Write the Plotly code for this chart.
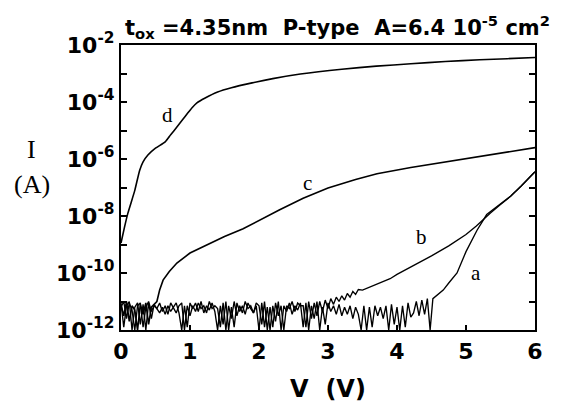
import plotly.graph_objects as go

# ---------------- data (log10 of current in A) ----------------
noise_step = 0.04
a_noise_log = [
    -11.05, -11.9, -11.15, -11.0, -12.0, -11.2, -11.05, -11.8, -11.1, -12.0, -11.05, -11.6,
    -11.1, -11.25, -11.4, -11.2, -11.45, -11.15, -11.35, -11.2, -11.05, -11.4,
    -12.0, -11.15, -11.9, -11.05,
    -11.25, -11.05, -11.35, -11.0, -11.4, -11.15, -11.3, -11.05, -11.35,
    -12.0, -11.15, -11.8, -11.0, -12.0, -11.2, -11.9, -11.05,
    -11.35, -11.15, -11.45, -11.05, -11.25, -11.4, -11.15,
    -12.0, -11.05, -11.9, -11.2, -12.0, -11.15, -11.7, -11.0, -12.0, -11.15,
    -11.35, -11.05, -11.45, -11.15, -11.3, -11.05,
    -11.9, -11.05, -12.0, -11.15, -11.6, -11.0, -12.0, -11.2, -11.8, -11.05,
    -11.35, -11.15, -11.45, -11.1, -11.5, -11.2, -11.45, -11.15, -11.6, -11.2, -11.45,
    -12.0, -11.15, -12.0, -11.2, -11.9, -11.15,
    -11.5, -11.2, -11.6, -11.15,
    -12.0, -11.1, -11.8, -11.2, -12.0, -11.15, -11.9, -11.05, -11.55,
    -11.4, -11.0, -11.5, -10.95, -11.45, -10.9, -12.0,
]
a_rise_v = [4.52, 4.60, 4.67, 4.75, 4.87, 5.00, 5.08, 5.16, 5.30, 5.45, 5.55, 5.65, 5.80, 6.00]
a_rise_log = [-10.9, -10.75, -10.6, -10.35, -10.0, -9.25, -8.85, -8.5, -7.95, -7.68, -7.5, -7.3, -6.95, -6.45]

b_noise_log = [
    -11.2, -11.0, -11.6, -11.05, -11.3, -12.0, -11.15, -11.05, -11.9, -11.2, -11.0, -11.35,
    -11.15, -11.25, -11.05, -11.35, -11.15, -11.45, -11.05, -11.25, -11.4, -11.15,
    -11.05, -12.0, -11.15, -11.5,
    -11.15, -11.35, -11.05, -11.25, -11.15, -11.4, -11.0, -11.25, -11.15,
    -11.25, -11.9, -11.05, -12.0, -11.15, -11.6, -11.0, -11.5,
    -11.15, -11.4, -11.0, -11.25, -11.15, -11.4, -11.05,
    -11.15, -11.8, -11.0, -12.0, -11.2, -11.9, -11.05, -11.5, -11.15, -12.0,
    -11.15, -11.25, -11.0, -11.35, -11.05, -11.15,
    -11.15, -11.9, -11.0, -11.6, -11.05, -11.5, -11.0, -11.35, -10.95, -11.25,
]
b_rise_v = [3.04, 3.08, 3.12, 3.16, 3.20, 3.24, 3.28, 3.32, 3.36, 3.40, 3.44, 3.50, 3.60,
            3.70, 3.80, 3.90, 4.00, 4.20, 4.50, 4.75, 5.00, 5.15, 5.35, 5.50, 5.65, 5.80, 6.00]
b_rise_log = [-10.9, -11.1, -10.85, -11.0, -10.8, -10.95, -10.72, -10.85, -10.65, -10.75, -10.58,
              -10.6, -10.5, -10.42, -10.3, -10.2, -10.05, -9.8, -9.4, -9.05, -8.65, -8.35,
              -7.9, -7.6, -7.3, -6.95, -6.45]

c_noise_log = [-11.1, -11.5, -11.0, -11.7, -11.15, -11.3, -12.0, -11.1, -11.45, -11.05, -11.8, -11.2, -11.1]
c_rise_v = [0.52, 0.56, 0.61, 0.70, 0.81, 1.00, 1.29, 1.50, 1.77, 2.00, 2.30, 2.64, 3.00,
            3.40, 3.71, 4.20, 4.67, 5.20, 5.60, 6.00]
c_rise_log = [-11.0, -10.6, -10.25, -9.95, -9.65, -9.3, -8.95, -8.72, -8.45, -8.15, -7.78,
              -7.38, -7.02, -6.72, -6.52, -6.3, -6.12, -5.92, -5.76, -5.6]

d_v = [0.00, 0.05, 0.10, 0.20, 0.27, 0.32, 0.39, 0.50, 0.64, 0.72, 0.81, 0.90, 0.97, 1.03,
       1.10, 1.22, 1.40, 1.60, 1.90, 2.20, 2.60, 3.20, 3.70, 4.20, 4.70, 5.20, 5.60, 6.00]
d_log = [-8.95, -8.4, -7.9, -7.1, -6.4, -6.1, -5.86, -5.62, -5.4, -5.15, -4.88, -4.6, -4.38,
         -4.2, -4.03, -3.86, -3.65, -3.5, -3.33, -3.18, -3.02, -2.85, -2.74, -2.66, -2.58,
         -2.52, -2.48, -2.44]

curve_labels = ["a", "b", "c", "d"]
label_v = [5.15, 4.36, 2.7, 0.67]
label_log = [-10.0, -8.75, -6.85, -4.45]

x_ticks = [0, 1, 2, 3, 4, 5, 6]
y_exponents = [-12, -11, -10, -9, -8, -7, -6, -5, -4, -3, -2]

# ---------------- build ----------------
def to_amp(logs):
    return [10 ** v for v in logs]

def noise_v(n):
    return [round(i * noise_step, 3) for i in range(n)]

a_v = noise_v(len(a_noise_log)) + a_rise_v
a_log = a_noise_log + a_rise_log
b_v = noise_v(len(b_noise_log)) + b_rise_v
b_log = b_noise_log + b_rise_log
c_v = noise_v(len(c_noise_log)) + c_rise_v
c_log = c_noise_log + c_rise_log

fig = go.Figure()
for xs, ls, w, sh in [(a_v, a_log, 1.35, "linear"), (b_v, b_log, 1.35, "linear"),
                      (c_v, c_log, 1.6, "linear"), (d_v, d_log, 1.6, "spline")]:
    line = dict(color="black", width=w, shape=sh)
    if sh == "spline":
        line["smoothing"] = 0.5
    fig.add_trace(go.Scatter(x=xs, y=to_amp(ls), mode="lines", line=line,
                             showlegend=False, hoverinfo="skip"))

for t, xv, lv in zip(curve_labels, label_v, label_log):
    fig.add_annotation(x=xv, y=lv, xref="x", yref="y", text=t, showarrow=False,
                       font=dict(family="Liberation Serif", size=21, color="black"))

tick_text = [("10<sup>%d</sup>" % e) if e % 2 == 0 else "" for e in y_exponents]
tick_font = dict(family="DejaVu Sans", size=22, color="black", weight="bold")

# the page body adds an 8px offset, so margins are shifted to keep the frame in place
fig.update_layout(
    width=564, height=405,
    margin=dict(l=113, r=37, t=37, b=83),
    paper_bgcolor="white", plot_bgcolor="white",
    font=dict(family="DejaVu Sans", color="black"),
    xaxis=dict(range=[0, 6], tickvals=x_ticks, ticks="inside", ticklen=5, tickwidth=1.5,
               tickcolor="black", showline=True, linecolor="black", linewidth=2.2, mirror=True,
               showgrid=False, zeroline=False, automargin=False, tickfont=tick_font,
               title=dict(text="V  (V)", standoff=18,
                          font=dict(family="DejaVu Sans", size=24, color="black", weight="bold"))),
    yaxis=dict(type="log", range=[-12, -2], tickvals=[10 ** e for e in y_exponents],
               ticktext=tick_text, ticks="inside", ticklen=6, tickwidth=1.5, tickcolor="black",
               showline=True, linecolor="black", linewidth=2.2, mirror="ticks",
               showgrid=False, zeroline=False, automargin=False, tickfont=tick_font),
)

fig.add_annotation(xref="paper", yref="paper", x=0.005, y=1, yanchor="bottom", xanchor="left",
                   yshift=1, showarrow=False,
                   text="t<sub>ox</sub> =4.35nm  P-type  A=6.4 10<sup>-5</sup> cm<sup>2</sup>",
                   font=dict(family="DejaVu Sans", size=21, color="black", weight="bold"))
fig.add_annotation(xref="paper", yref="paper", x=-0.215, y=0.635, xanchor="center",
                   showarrow=False, text="I",
                   font=dict(family="Liberation Serif", size=26, color="black"))
fig.add_annotation(xref="paper", yref="paper", x=-0.215, y=0.51, xanchor="center",
                   showarrow=False, text="(A)",
                   font=dict(family="Liberation Serif", size=26, color="black"))

fig.write_html("out.html")
